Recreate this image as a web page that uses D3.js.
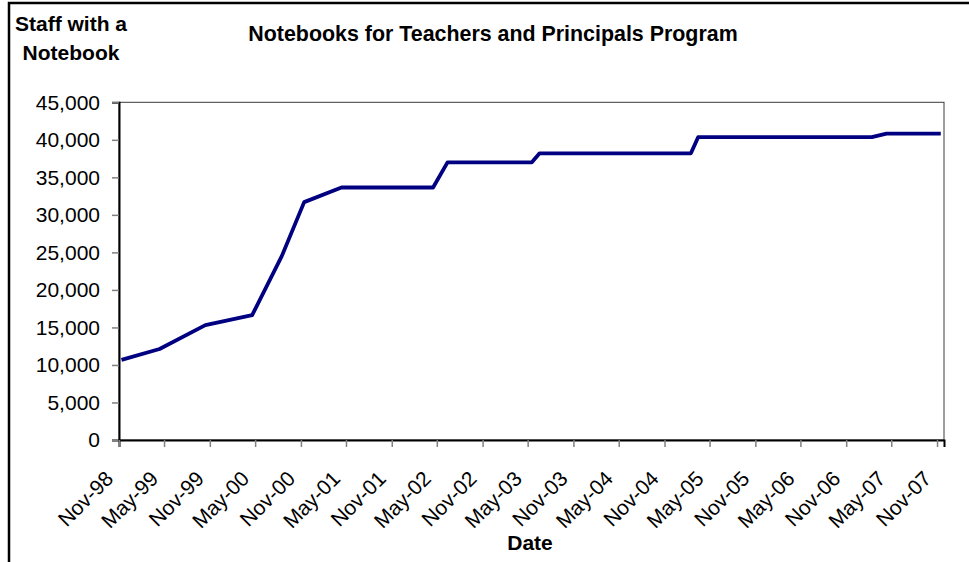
<!DOCTYPE html>
<html>
<head>
<meta charset="utf-8">
<script src="https://cdn.jsdelivr.net/npm/d3@7"></script>
<style>
  body { margin: 0; background: #fff; }
  svg { display: block; font-family: "Liberation Sans", Arial, sans-serif; }
</style>
</head>
<body>
<div id="chart"></div>
<script>
// data
var dates = ["1998-11-11", "1999-04-13", "1999-10-14", "2000-04-19", "2000-08-16",
             "2000-11-14", "2001-04-13", "2002-04-16", "2002-06-13", "2003-05-18",
             "2003-06-18", "2005-02-15", "2005-03-16", "2007-02-12", "2007-04-12",
             "2007-11-16"];
var staff = [10670, 12130, 15300, 16640, 24500,
             31700, 33650, 33650, 37000, 37000,
             38200, 38200, 40350, 40350, 40830,
             40830];
var xTickDates = ["1998-11-01", "1999-05-01", "1999-11-01", "2000-05-01", "2000-11-01",
                  "2001-05-01", "2001-11-01", "2002-05-01", "2002-11-01", "2003-05-01",
                  "2003-11-01", "2004-05-01", "2004-11-01", "2005-05-01", "2005-11-01",
                  "2006-05-01", "2006-11-01", "2007-05-01", "2007-11-01"];
var yTicks = [0, 5000, 10000, 15000, 20000, 25000, 30000, 35000, 40000, 45000];

var parse = d3.timeParse("%Y-%m-%d");
var data = dates.map(function (d, i) { return { date: parse(d), value: staff[i] }; });

var W = 969, H = 562;
var svg = d3.select("#chart").append("svg")
    .attr("width", W)
    .attr("height", H);

// outer chart border (runs off the picture right and bottom)
svg.append("rect")
    .attr("x", 9).attr("y", 3)
    .attr("width", 1000).attr("height", 600)
    .attr("fill", "none")
    .attr("stroke", "#000")
    .attr("stroke-width", 2.5);

var x = d3.scaleTime()
    .domain([parse("1998-11-01"), parse("2007-11-29")])
    .range([119, 944]);
var y = d3.scaleLinear()
    .domain([0, 45000])
    .range([440, 102.3]);

// plot area frame
svg.append("rect")
    .attr("x", x.range()[0]).attr("y", y.range()[1])
    .attr("width", x.range()[1] - x.range()[0])
    .attr("height", y.range()[0] - y.range()[1])
    .attr("fill", "none")
    .attr("stroke", "#3a3a3a")
    .attr("stroke-width", 1);

// Y axis
var yAxis = svg.append("g")
    .attr("transform", "translate(119,0)")
    .call(d3.axisLeft(y).tickValues(yTicks).tickSize(7).tickPadding(12)
          .tickFormat(d3.format(",")));
yAxis.select(".domain").attr("stroke", "#000").attr("stroke-width", 2);
yAxis.selectAll(".tick line").attr("stroke", "#808080").attr("stroke-width", 1.5);
yAxis.selectAll(".tick text")
    .attr("font-size", 21)
    .attr("font-family", "Liberation Sans, Arial, sans-serif")
    .attr("fill", "#000");

// X axis
var xAxis = svg.append("g")
    .attr("transform", "translate(0,440)")
    .call(d3.axisBottom(x).tickValues(xTickDates.map(parse)).tickSize(7)
          .tickFormat(d3.timeFormat("%b-%y")));
xAxis.select(".domain").attr("stroke", "#000").attr("stroke-width", 2);
xAxis.selectAll(".tick line").attr("stroke", "#808080").attr("stroke-width", 1.5);
xAxis.selectAll(".tick text")
    .attr("font-size", 21)
    .attr("font-family", "Liberation Sans, Arial, sans-serif")
    .attr("fill", "#000")
    .attr("text-anchor", "end")
    .attr("dy", null)
    .attr("y", 0)
    .attr("transform", "translate(-5,40) rotate(-45)");

// the line
svg.append("path")
    .datum(data)
    .attr("fill", "none")
    .attr("stroke", "#000080")
    .attr("stroke-width", 3.8)
    .attr("stroke-linejoin", "round")
    .attr("d", d3.line()
        .x(function (d) { return x(d.date); })
        .y(function (d) { return y(d.value); }));

// titles
svg.append("text")
    .attr("x", 493).attr("y", 41)
    .attr("text-anchor", "middle")
    .attr("font-size", 21.4).attr("font-weight", "bold")
    .text("Notebooks for Teachers and Principals Program");

svg.append("text")
    .attr("x", 71).attr("y", 31)
    .attr("text-anchor", "middle")
    .attr("font-size", 21).attr("font-weight", "bold")
    .text("Staff with a");
svg.append("text")
    .attr("x", 71).attr("y", 60)
    .attr("text-anchor", "middle")
    .attr("font-size", 21).attr("font-weight", "bold")
    .text("Notebook");

svg.append("text")
    .attr("x", 530).attr("y", 550)
    .attr("text-anchor", "middle")
    .attr("font-size", 21).attr("font-weight", "bold")
    .text("Date");
</script>
</body>
</html>
